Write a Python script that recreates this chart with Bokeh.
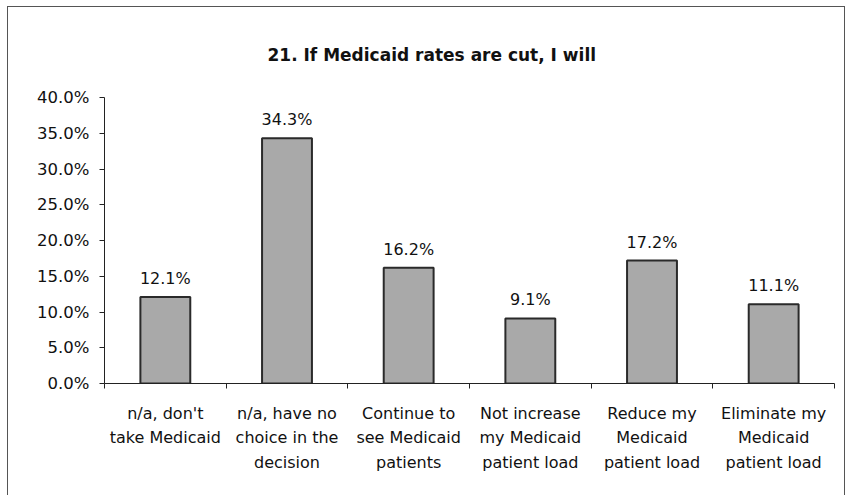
from bokeh.plotting import figure
from bokeh.models import Range1d, FixedTicker, PrintfTickFormatter, ColumnDataSource, Title
from bokeh.core.properties import value
from bokeh.embed import file_html
from bokeh.resources import INLINE

categories = ["n/a, don't\ntake Medicaid", "n/a, have no\nchoice in the\ndecision",
              "Continue to\nsee Medicaid\npatients", "Not increase\nmy Medicaid\npatient load",
              "Reduce my\nMedicaid\npatient load", "Eliminate my\nMedicaid\npatient load"]
percents = [12.1, 34.3, 16.2, 9.1, 17.2, 11.1]
y_ticks = [0, 5, 10, 15, 20, 25, 30, 35, 40]
title_text = "21.  If Medicaid rates are cut, I will"

FONT = "DejaVu Sans"
xs = [i + 0.5 for i in range(len(categories))]
src = ColumnDataSource(dict(x=xs, y=percents, lab=[f"{v:.1f}%" for v in percents]))

p = figure(width=838, height=489, output_backend="svg", toolbar_location=None,
           x_range=Range1d(0, len(categories)), y_range=Range1d(0, 40),
           min_border_left=96, min_border_right=12, min_border_top=90, min_border_bottom=113)
p.styles = {"border-left": "1px solid #555", "border-top": "1px solid #555",
            "border-right": "1px solid #555", "margin-left": "7px", "margin-top": "6px"}
p.background_fill_color = "white"
p.border_fill_color = "white"
p.outline_line_color = None
p.grid.visible = False

t = Title(text=title_text, align="left", vertical_align="top", text_font=FONT,
          text_font_size="17px", text_font_style="bold", text_color="#111111",
          standoff=62, offset=163)
p.add_layout(t, "above")

p.vbar(x="x", top="y", width=0.41, bottom=0, source=src, fill_color="#a9a9a9",
       line_color="#2a2a2a", line_width=2)
p.text(x="x", y="y", text="lab", source=src, text_align="center", text_baseline="bottom",
       y_offset=-9, text_font=value(FONT), text_font_size="16px", text_color="#111111")

xa = p.xaxis[0]
xa.ticker = FixedTicker(ticks=xs, minor_ticks=list(range(len(categories) + 1)))
xa.major_label_overrides = {x: c for x, c in zip(xs, categories)}
xa.major_tick_line_color = None
xa.minor_tick_line_color = "#222222"
xa.minor_tick_out = 5
xa.minor_tick_in = 0
xa.axis_line_color = "#222222"
xa.major_label_text_font = FONT
xa.major_label_text_font_size = "16px"
xa.major_label_text_color = "#111111"
xa.major_label_text_line_height = 1.29
xa.major_label_standoff = 14

ya = p.yaxis[0]
ya.ticker = FixedTicker(ticks=y_ticks)
ya.formatter = PrintfTickFormatter(format="%.1f%%")
ya.minor_tick_line_color = None
ya.major_tick_out = 5
ya.major_tick_in = 0
ya.major_tick_line_color = "#222222"
ya.axis_line_color = "#222222"
ya.major_label_text_font = FONT
ya.major_label_text_font_size = "16.5px"
ya.major_label_text_color = "#111111"
ya.major_label_standoff = 10

open("out.html", "w").write(file_html(p, INLINE))
